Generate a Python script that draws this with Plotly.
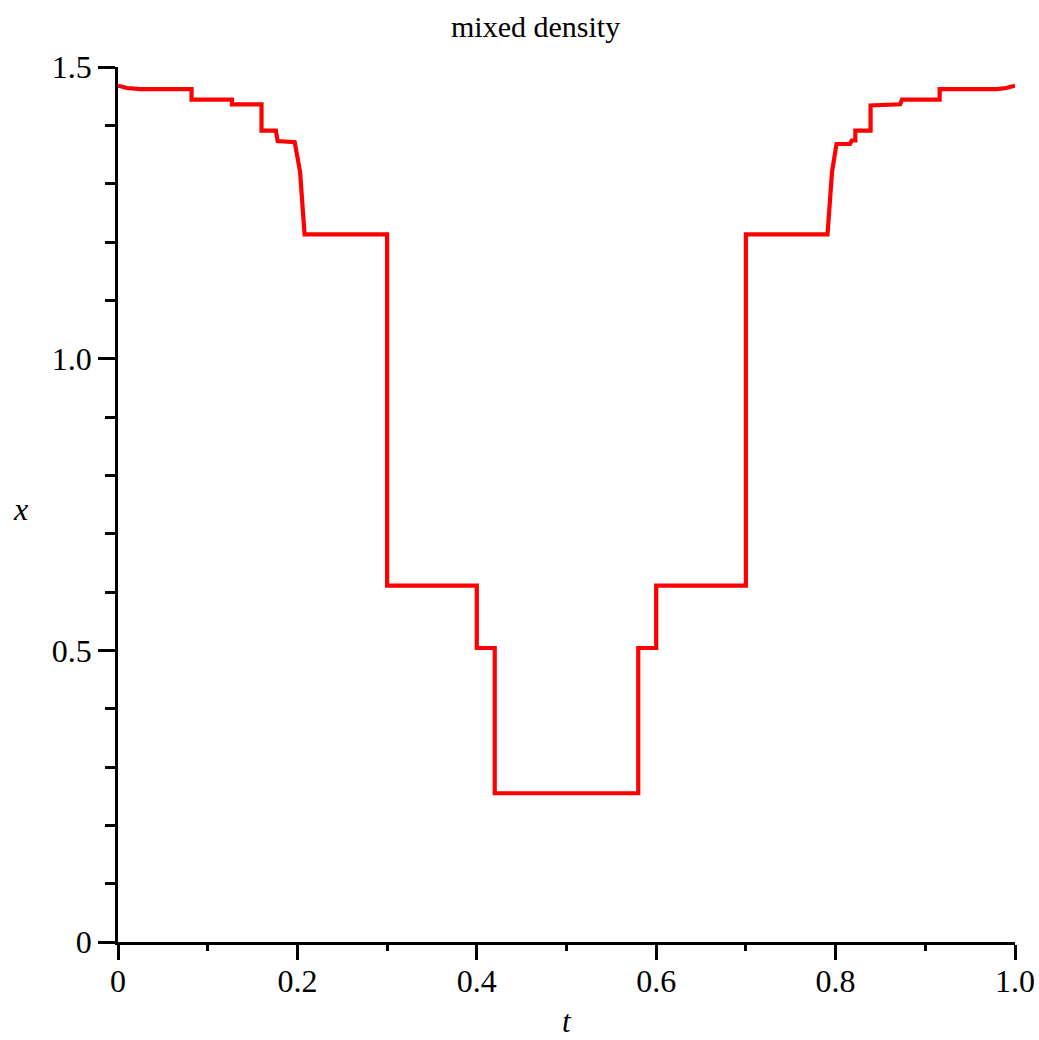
import plotly.graph_objects as go

# data
t_vals = [0.0, 0.01, 0.025, 0.082, 0.082, 0.127, 0.127, 0.160, 0.160, 0.176, 0.178,
          0.197, 0.203, 0.208, 0.300, 0.300, 0.400, 0.400, 0.420, 0.420, 0.580, 0.580,
          0.600, 0.600, 0.700, 0.700, 0.791, 0.796, 0.801, 0.816, 0.818, 0.822, 0.822,
          0.839, 0.839, 0.872, 0.874, 0.916, 0.916, 0.980, 0.990, 1.0]
x_vals = [1.468, 1.464, 1.462, 1.462, 1.444, 1.444, 1.436, 1.436, 1.391, 1.391, 1.373,
          1.371, 1.320, 1.213, 1.213, 0.611, 0.611, 0.504, 0.504, 0.255, 0.255, 0.504,
          0.504, 0.611, 0.611, 1.213, 1.213, 1.320, 1.368, 1.368, 1.374, 1.374, 1.391,
          1.391, 1.434, 1.436, 1.444, 1.444, 1.462, 1.462, 1.464, 1.468]

x_tickvals = [0, 0.2, 0.4, 0.6, 0.8, 1.0]
x_ticktext = ["0", "0.2", "0.4", "0.6", "0.8", "1.0"]
y_tickvals = [0, 0.5, 1.0, 1.5]
y_ticktext = ["0", "0.5", "1.0", "1.5"]

title_text = "mixed density"
x_label = "t"
y_label = "x"

FONT = "Liberation Serif"

fig = go.Figure()
fig.add_trace(go.Scatter(x=t_vals, y=x_vals, mode="lines",
                         line=dict(color="#ff0000", width=4.2), hoverinfo="skip",
                         showlegend=False))

fig.update_layout(
    width=1039, height=1040,
    margin=dict(l=118, r=24, t=67, b=98),
    paper_bgcolor="white", plot_bgcolor="white",
    font=dict(family=FONT, size=32, color="black"),
    xaxis=dict(range=[0, 1.0], tickvals=x_tickvals, ticktext=x_ticktext,
               automargin=False, ticklabelstandoff=-6,
               showgrid=False, zeroline=False, showline=True, linecolor="black",
               linewidth=2.5, ticks="outside", ticklen=15, tickwidth=2.5, tickcolor="black",
               tickfont=dict(family=FONT, size=32),
               minor=dict(dtick=0.1, tick0=0, ticks="outside", ticklen=6,
                          tickwidth=2.5, tickcolor="black", showgrid=False)),
    yaxis=dict(range=[0, 1.5], tickvals=y_tickvals, ticktext=y_ticktext,
               automargin=False,
               showgrid=False, zeroline=False, showline=True, linecolor="black",
               linewidth=2.5, ticks="outside", ticklen=17, tickwidth=2.5, tickcolor="black",
               tickfont=dict(family=FONT, size=32),
               minor=dict(dtick=0.1, tick0=0, ticks="outside", ticklen=10,
                          tickwidth=2.5, tickcolor="black", showgrid=False)),
    annotations=[
        dict(text=title_text, xref="paper", yref="paper", x=0.465, y=1.0,
             yshift=59, xanchor="center", yanchor="top", showarrow=False,
             font=dict(family=FONT, size=30)),
        dict(text="<i>" + x_label + "</i>", xref="paper", yref="paper", x=0.5, y=0,
             yshift=-99, xanchor="center", yanchor="bottom", showarrow=False,
             font=dict(family=FONT, size=31)),
        dict(text="<i>" + y_label + "</i>", xref="paper", yref="paper", x=0, y=0.495,
             xshift=-98, xanchor="center", yanchor="middle", showarrow=False,
             font=dict(family=FONT, size=32)),
    ],
)

fig.write_html("out.html")
